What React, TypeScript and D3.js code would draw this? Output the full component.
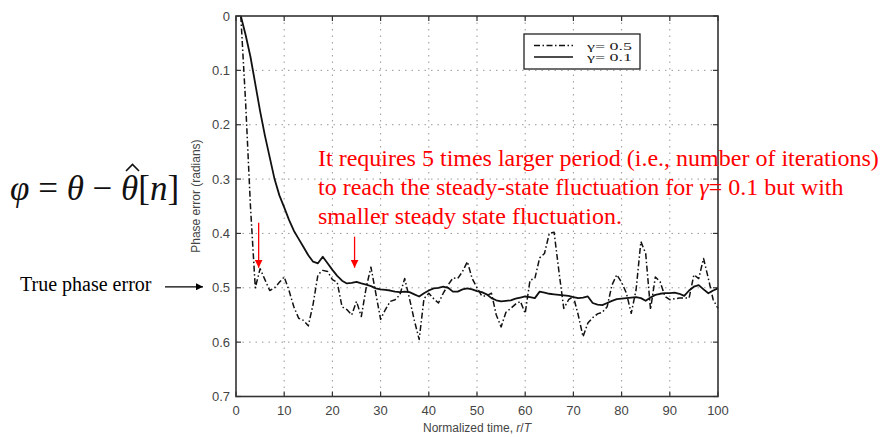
import React from 'react';
import * as d3 from 'd3';

// Phase error for gamma = 0.5 (dash-dot), t = 1..100
const gamma05: number[] = [
  0, 0.16, 0.35, 0.5, 0.465, 0.485, 0.505, 0.5, 0.49, 0.48,
  0.505, 0.535, 0.556, 0.56, 0.57, 0.53, 0.476, 0.468, 0.47, 0.485,
  0.49, 0.535, 0.54, 0.55, 0.525, 0.553, 0.5, 0.462, 0.51, 0.558,
  0.54, 0.525, 0.522, 0.513, 0.483, 0.52, 0.56, 0.595, 0.52, 0.51,
  0.52, 0.528, 0.51, 0.495, 0.482, 0.483, 0.47, 0.452, 0.483, 0.5,
  0.515, 0.515, 0.51, 0.55, 0.572, 0.545, 0.538, 0.53, 0.525, 0.547,
  0.486, 0.483, 0.445, 0.437, 0.4, 0.398, 0.47, 0.538, 0.522, 0.516,
  0.55, 0.59, 0.565, 0.555, 0.548, 0.545, 0.535, 0.495, 0.476, 0.49,
  0.51, 0.547, 0.504, 0.415, 0.437, 0.54, 0.48, 0.489, 0.516, 0.522,
  0.52, 0.519, 0.519, 0.519, 0.476, 0.483, 0.446, 0.483, 0.522, 0.538,
];

// Phase error for gamma = 0.1 (solid), t = 1..100
const gamma01: number[] = [
  0, 0.035, 0.075, 0.125, 0.175, 0.22, 0.26, 0.3, 0.33, 0.352,
  0.375, 0.395, 0.41, 0.425, 0.44, 0.452, 0.455, 0.443, 0.455, 0.467,
  0.478, 0.487, 0.492, 0.491, 0.489, 0.492, 0.494, 0.497, 0.501, 0.503,
  0.504, 0.505, 0.507, 0.508, 0.507, 0.508, 0.512, 0.516, 0.51, 0.505,
  0.501, 0.5, 0.498, 0.5, 0.507, 0.507, 0.503, 0.501, 0.503, 0.506,
  0.508, 0.512, 0.519, 0.523, 0.525, 0.524, 0.523, 0.52, 0.518, 0.516,
  0.517, 0.519, 0.507, 0.509, 0.511, 0.512, 0.513, 0.514, 0.515, 0.517,
  0.519, 0.518, 0.516, 0.528, 0.531, 0.532, 0.528, 0.524, 0.521, 0.52,
  0.519, 0.518, 0.517, 0.519, 0.524, 0.518, 0.513, 0.511, 0.51, 0.51,
  0.509, 0.511, 0.515, 0.505, 0.498, 0.495, 0.503, 0.51, 0.505, 0.501,
];

const xTicks: number[] = [0, 10, 20, 30, 40, 50, 60, 70, 80, 90, 100];
const yTicks: number[] = [0, 0.1, 0.2, 0.3, 0.4, 0.5, 0.6, 0.7];
const yTickLabels: string[] = ['0', '0.1', '0.2', '0.3', '0.4', '0.5', '0.6', '0.7'];
const legendLabels: string[] = ['\u03B3= 0.5', '\u03B3= 0.1'];
const arrowTargets: { t: number; v: number; len: number }[] = [
  { t: 4.7, v: 0.463, len: 45 },
  { t: 24.6, v: 0.463, len: 31 },
];

export default function App() {
  const W = 885;
  const H = 437;
  const x = d3.scaleLinear().domain([0, 100]).range([236, 718]);
  const y = d3.scaleLinear().domain([0, 0.7]).range([16, 396.5]);
  const line = d3
    .line<number>()
    .x((_, i) => x(i + 1))
    .y((d) => y(d));

  const axisFont = "'Liberation Sans', Arial, sans-serif";
  const axisColor = '#444';
  const frame = '#333';
  const serif = "'Liberation Serif', 'Times New Roman', serif";

  return (
    <svg
      width={W}
      height={H}
      viewBox={`0 0 ${W} ${H}`}
      style={{ position: 'absolute', left: 0, top: 0, background: '#fff' }}
    >
      <rect x={0} y={0} width={W} height={H} fill="#fff" />
      <defs>
        <marker id="redHead" viewBox="0 0 10 10" refX="10" refY="5" markerWidth="8" markerHeight="8" orient="auto" markerUnits="userSpaceOnUse">
          <path d="M0,0 L10,5 L0,10 z" fill="#ff0000" />
        </marker>
        <marker id="blackHead" viewBox="0 0 10 10" refX="10" refY="5" markerWidth="8" markerHeight="7" orient="auto" markerUnits="userSpaceOnUse">
          <path d="M0,0 L10,5 L0,10 z" fill="#000" />
        </marker>
      </defs>

      {/* grid */}
      <g stroke="#999" strokeWidth={1} strokeDasharray="1.5,5">
        {xTicks.slice(1, -1).map((t) => (
          <line key={'gx' + t} x1={x(t)} x2={x(t)} y1={y(0)} y2={y(0.7)} />
        ))}
        {yTicks.slice(1, -1).map((t) => (
          <line key={'gy' + t} x1={x(0)} x2={x(100)} y1={y(t)} y2={y(t)} />
        ))}
      </g>

      {/* ticks */}
      <g stroke={frame} strokeWidth={1.2}>
        {xTicks.map((t) => (
          <g key={'tx' + t}>
            <line x1={x(t)} x2={x(t)} y1={y(0.7)} y2={y(0.7) - 5} />
            <line x1={x(t)} x2={x(t)} y1={y(0)} y2={y(0) + 5} />
          </g>
        ))}
        {yTicks.map((t) => (
          <g key={'ty' + t}>
            <line x1={x(0)} x2={x(0) + 5} y1={y(t)} y2={y(t)} />
            <line x1={x(100)} x2={x(100) - 5} y1={y(t)} y2={y(t)} />
          </g>
        ))}
      </g>

      {/* series */}
      <path d={line(gamma05) || ''} fill="none" stroke="#111" strokeWidth={1.5} strokeDasharray="6,2.5,1.5,2.5" strokeLinejoin="round" />
      <path d={line(gamma01) || ''} fill="none" stroke="#111" strokeWidth={1.8} strokeLinejoin="round" />

      {/* frame */}
      <rect x={x(0)} y={y(0)} width={x(100) - x(0)} height={y(0.7) - y(0)} fill="none" stroke={frame} strokeWidth={1.6} />

      {/* tick labels */}
      <g fontFamily={axisFont} fontSize={13} fill={axisColor}>
        {yTicks.map((t, i) => (
          <text key={'yl' + t} x={x(0) - 6} y={y(t) + 4.5} textAnchor="end">
            {yTickLabels[i]}
          </text>
        ))}
        {xTicks.map((t) => (
          <text key={'xl' + t} x={x(t)} y={415} textAnchor="middle">
            {t}
          </text>
        ))}
      </g>
      <text x={x(50)} y={432} textAnchor="middle" fontFamily={axisFont} fontSize={12} fill={axisColor}>
        Normalized time, <tspan fontStyle="italic">r</tspan>/<tspan fontStyle="italic">T</tspan>
      </text>
      <text
        transform={`translate(200,${y(0.3) + 17}) rotate(-90)`}
        textAnchor="middle"
        fontFamily={axisFont}
        fontSize={12}
        fill={axisColor}
      >
        Phase error (radians)
      </text>

      {/* legend */}
      <rect x={524} y={34} width={116} height={35} fill="#fff" stroke="#222" strokeWidth={1.3} />
      <line x1={534} x2={573} y1={45.5} y2={45.5} stroke="#111" strokeWidth={1.4} strokeDasharray="6,2.5,1.5,2.5" />
      <line x1={534} x2={573} y1={57} y2={57} stroke="#111" strokeWidth={1.6} />
      {legendLabels.map((s, i) => (
        <text
          key={s}
          transform={`translate(587,${50 + i * 11}) scale(1.2,0.72)`}
          fontFamily={serif}
          fontSize={15}
          fill="#222"
        >
          {s}
        </text>
      ))}

      {/* formula */}
      <text x={10} y={200} fontFamily={serif} fontSize={35} fill="#111">
        <tspan fontStyle="italic">{'\u03C6'}</tspan>
        <tspan>{' = '}</tspan>
        <tspan fontStyle="italic">{'\u03B8'}</tspan>
        <tspan>{' \u2212 '}</tspan>
        <tspan fontStyle="italic">{'\u03B8'}</tspan>
        <tspan>[</tspan>
        <tspan fontStyle="italic">n</tspan>
        <tspan>]</tspan>
      </text>
      <path d="M126,171 L132.5,164.5 L139,171" fill="none" stroke="#111" strokeWidth={1.6} />

      {/* annotation note */}
      <g fontFamily={serif} fontSize={24} fill="#ff0000">
        <text x={318} y={166}>It requires 5 times larger period (i.e., number of iterations)</text>
        <text x={318} y={195}>
          to reach the steady-state fluctuation for <tspan fontStyle="italic">{'\u03B3'}</tspan>= 0.1 but with
        </text>
        <text x={318} y={224}>smaller steady state fluctuation.</text>
      </g>
      {arrowTargets.map((a, i) => (
        <line
          key={'ra' + i}
          x1={x(a.t)}
          x2={x(a.t)}
          y1={y(a.v) - a.len}
          y2={y(a.v)}
          stroke="#ff0000"
          strokeWidth={1.3}
          markerEnd="url(#redHead)"
        />
      ))}

      {/* true phase error */}
      <text x={20} y={291} fontFamily={serif} fontSize={20} fill="#000">
        True phase error
      </text>
      <line x1={165} x2={203} y1={y(0.5) - 1} y2={y(0.5) - 1} stroke="#000" strokeWidth={1.2} markerEnd="url(#blackHead)" />
    </svg>
  );
}
